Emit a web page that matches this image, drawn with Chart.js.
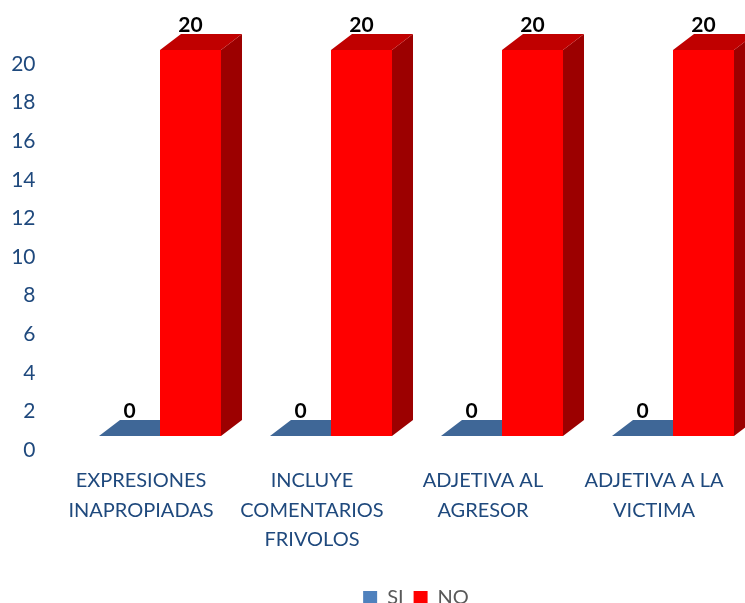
<!DOCTYPE html>
<html>
<head>
<meta charset="utf-8">
<style>
  html, body { margin: 0; padding: 0; width: 745px; height: 603px; overflow: hidden; background: #fff; }
  canvas { display: block; }
</style>
<script src="https://cdn.jsdelivr.net/npm/chart.js@4/dist/chart.umd.min.js"></script>
</head>
<body>
<canvas id="chart" width="832" height="618"></canvas>
<script>
const categories = [
    ["EXPRESIONES", "INAPROPIADAS"],
    ["INCLUYE", "COMENTARIOS", "FRIVOLOS"],
    ["ADJETIVA AL", "AGRESOR"],
    ["ADJETIVA A LA", "VICTIMA"]
];
const siValues = [0, 0, 0, 0];
const noValues = [20, 20, 20, 20];

const FONT = "Lato, 'Open Sans', sans-serif";
const TEXT_BLUE = "#1F497D";
const DEPTH_X = 21;
const DEPTH_Y = 16;
const PLOT_BOTTOM = 436;

function face(ctx, color, pts) {
    ctx.fillStyle = color;
    ctx.beginPath();
    pts.forEach((p, i) => i ? ctx.lineTo(p[0], p[1]) : ctx.moveTo(p[0], p[1]));
    ctx.closePath();
    ctx.fill();
}

// chart.js has no 3d bars, so add the top and side faces behind each bar
const bars3d = {
    id: "bars3d",
    beforeDatasetsDraw(chart) {
        const ctx = chart.ctx;
        chart.data.datasets.forEach((ds, d) => {
            chart.getDatasetMeta(d).data.forEach(bar => {
                const l = bar.x - bar.width / 2, r = bar.x + bar.width / 2;
                face(ctx, ds.sideColor, [[r, bar.y], [r + DEPTH_X, bar.y - DEPTH_Y], [r + DEPTH_X, bar.base - DEPTH_Y], [r, bar.base]]);
                face(ctx, ds.topColor, [[l, bar.y], [l + DEPTH_X, bar.y - DEPTH_Y], [r + DEPTH_X, bar.y - DEPTH_Y], [r, bar.y]]);
            });
        });
    },
    afterDatasetsDraw(chart) {
        const ctx = chart.ctx;
        ctx.save();
        ctx.fillStyle = "#000";
        ctx.font = "bold 21px " + FONT;
        ctx.textAlign = "center";
        ctx.textBaseline = "middle";
        chart.data.datasets.forEach((ds, d) => {
            chart.getDatasetMeta(d).data.forEach((bar, i) => {
                ctx.fillText(ds.data[i], bar.x, bar.y - 25);
            });
        });
        ctx.restore();
    }
};

new Chart(document.getElementById("chart"), {
    type: "bar",
    plugins: [bars3d],
    data: {
        labels: categories,
        datasets: [
            { label: "SI", data: siValues, backgroundColor: "#4F81BD", topColor: "#3F6797", sideColor: "#3F6797", clip: false },
            { label: "NO", data: noValues, backgroundColor: "#FF0000", topColor: "#C00000", sideColor: "#9C0000", clip: false }
        ]
    },
    options: {
        responsive: false,
        animation: false,
        layout: { padding: { top: 50 } },
        categoryPercentage: 0.7135,
        barPercentage: 1,
        plugins: {
            tooltip: { enabled: false },
            legend: {
                position: "bottom",
                labels: { color: "#595959", font: { family: FONT, size: 20 }, boxWidth: 14, boxHeight: 14, padding: 10 }
            }
        },
        scales: {
            x: {
                grid: { display: false },
                border: { display: false },
                ticks: {
                    color: TEXT_BLUE,
                    font: { family: FONT, size: 20, lineHeight: 1.47 },
                    padding: 22,
                    labelOffset: -19,
                    autoSkip: false,
                    maxRotation: 0
                },
                afterFit(scale) { scale.height = scale.chart.height - PLOT_BOTTOM - scale.chart.legend.height; }
            },
            y: {
                min: 0,
                max: 20,
                grid: { display: false },
                border: { display: false },
                ticks: {
                    color: TEXT_BLUE,
                    font: { family: FONT, size: 21 },
                    stepSize: 2,
                    labelOffset: 14,
                    padding: 31
                },
                afterFit(scale) { scale.width = 74.5; }
            },
            // empty axis that keeps the plot at its width while the legend centres on the full canvas
            spacer: {
                type: "linear",
                position: "right",
                display: true,
                grid: { display: false },
                border: { display: false },
                ticks: { display: false },
                afterFit(scale) { scale.width = 73.5; }
            }
        }
    }
});
</script>
</body>
</html>
